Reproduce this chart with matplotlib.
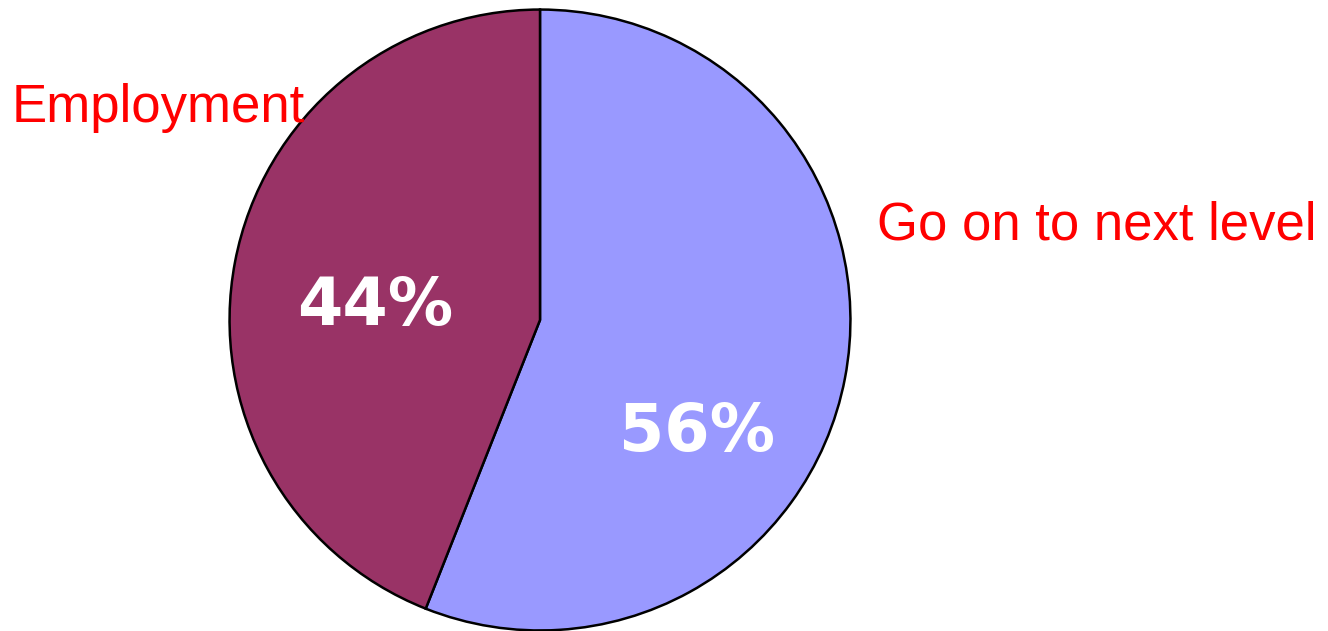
import matplotlib
matplotlib.use("Agg")
import matplotlib.pyplot as plt

categories = ["Go on to next level", "Employment"]
values = [56, 44]
colors = ["#9999FF", "#993366"]

W, H = 1328, 631
fig = plt.figure(figsize=(W / 100, H / 100), dpi=100)

cx, cy, r = 540, 320, 312
ax = fig.add_axes([(cx - r) / W, (H - cy - r) / H, 2 * r / W, 2 * r / H])
wedges, _ = ax.pie(values, colors=colors, startangle=90, counterclock=False,
                   radius=1.0, wedgeprops=dict(edgecolor="black", linewidth=1.8))
ax.set_xlim(-1.005, 1.005)
ax.set_ylim(-1.005, 1.005)
ax.set_aspect("equal")
ax.axis("off")

pct_pos = [(697, 433), (375, 307)]
for v, (px, py) in zip(values, pct_pos):
    fig.text(px / W, 1 - py / H, f"{v}%", color="white", fontsize=47,
             fontweight="bold", family="DejaVu Sans", ha="center", va="center")

label_pos = [(877, 239), (12, 122)]
for name, (px, py) in zip(categories, label_pos):
    fig.text(px / W, 1 - py / H, name, color="#FF0000", fontsize=38,
             family="Liberation Sans", ha="left", va="baseline")

fig.savefig("out.png", dpi=100)
